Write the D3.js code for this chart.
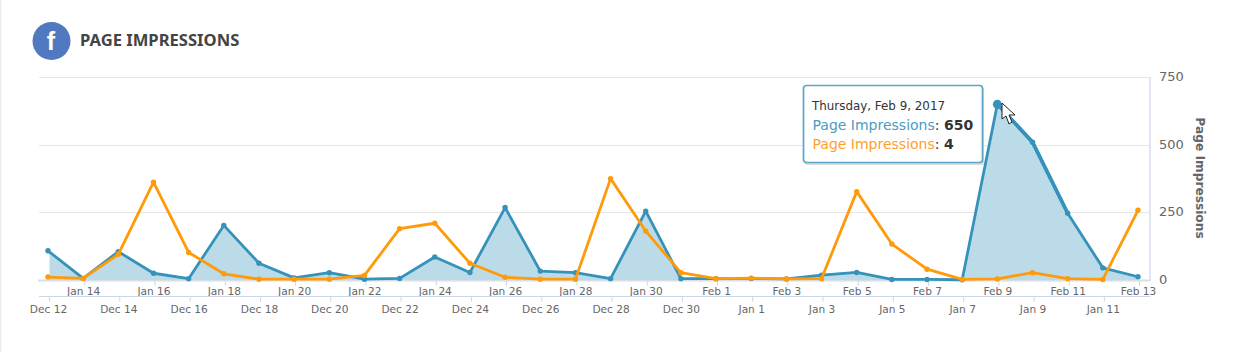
<!DOCTYPE html>
<html><head><meta charset="utf-8">
<script src="https://cdnjs.cloudflare.com/ajax/libs/d3/7.8.5/d3.min.js"></script>
<style>html,body{margin:0;padding:0;background:#fff;overflow:hidden}svg{display:block}</style>
</head><body><svg id="c" width="1249" height="352"></svg>
<script>
const topLabels=["Jan 14","Jan 16","Jan 18","Jan 20","Jan 22","Jan 24","Jan 26","Jan 28","Jan 30","Feb 1","Feb 3","Feb 5","Feb 7","Feb 9","Feb 11","Feb 13"];
const bottomLabels=["Dec 12","Dec 14","Dec 16","Dec 18","Dec 20","Dec 22","Dec 24","Dec 26","Dec 28","Dec 30","Jan 1","Jan 3","Jan 5","Jan 7","Jan 9","Jan 11"];
const blueValues=[108,6,105,25,5,202,62,8,27,3,6,85,28,268,33,27,5,255,5,5,6,4,18,28,2,2,1,650,510,247,45,12];
const orangeValues=[11,6,95,362,102,23,3,3,3,17,190,210,62,10,3,3,375,181,27,5,7,4,5,327,133,40,2,4,27,5,2,258];
const yTicks=[0,250,500,750];
const titleText="PAGE IMPRESSIONS",yTitle="Page Impressions";
const tooltipDate="Thursday, Feb 9, 2017",seriesName="Page Impressions";
const hoverIndex=27;
const BLUE="#3592b9",ORANGE="#ff9a0a",TXT="#666";
const FONT="'DejaVu Sans',sans-serif";
const svg=d3.select("#c");
const x=d3.scaleLinear().domain([0,blueValues.length-1]).range([48,1138]);
const y=d3.scaleLinear().domain([0,750]).range([280,77.3]);
svg.append("defs").append("clipPath").attr("id","ac").append("rect").attr("x",49.5).attr("y",0).attr("width",1200).attr("height",352);
svg.append("rect").attr("x",0).attr("y",0).attr("width",1.5).attr("height",352).attr("fill","#eee");
// header
svg.append("circle").attr("cx",51.5).attr("cy",41).attr("r",19).attr("fill","#5079bf");
svg.append("text").attr("x",51).attr("y",50).attr("text-anchor","middle").attr("font-family","'Liberation Sans',sans-serif").attr("font-weight",700).attr("font-size",25).attr("fill","#fff").text("f");
svg.append("text").attr("x",80).attr("y",46).attr("font-family","'Noto Sans',sans-serif").attr("font-weight",700).attr("font-size",16.6).attr("fill","#444").text(titleText);
// grid
svg.append("g").selectAll("line").data(yTicks.filter(d=>d>0)).join("line").attr("x1",39).attr("x2",1150).attr("y1",d=>Math.round(y(d))+.5).attr("y2",d=>Math.round(y(d))+.5).attr("stroke","#e6e6e6");
svg.append("line").attr("x1",38).attr("x2",1150).attr("y1",y(0)+.5).attr("y2",y(0)+.5).attr("stroke","#d8dfe9").attr("stroke-width",2);
// right axis
svg.append("line").attr("x1",1150).attr("x2",1150).attr("y1",77).attr("y2",281).attr("stroke","#d5deee").attr("stroke-width",1.5);
const yAxis=d3.axisRight(y).tickValues(yTicks).tickSize(0).tickPadding(0).tickFormat(d3.format("d"));
const gy=svg.append("g").attr("transform","translate(1159,-1)").call(yAxis);
gy.select(".domain").remove();
gy.selectAll("text").attr("font-family",FONT).attr("font-size",13).attr("fill",TXT);
svg.append("text").attr("transform","translate(1196,178) rotate(90)").attr("text-anchor","middle").attr("font-family",FONT).attr("font-weight",700).attr("font-size",12.2).attr("fill",TXT).text(yTitle);
// x axes
const idx=d3.range(blueValues.length);
const topIdx=idx.filter(i=>i%2==1), botIdx=idx.filter(i=>i%2==0);
const axTop=d3.axisBottom(x).tickValues(topIdx).tickSize(5).tickPadding(2).tickFormat((d,i)=>topLabels[i]);
const gt=svg.append("g").attr("transform","translate(0,280.5)").call(axTop);
const axBot=d3.axisBottom(x).tickValues(botIdx).tickSize(5).tickPadding(4).tickFormat((d,i)=>bottomLabels[i]);
const gb=svg.append("g").attr("transform","translate(0,296.5)").call(axBot);
[gt,gb].forEach(g=>{g.select(".domain").remove();g.selectAll("line").attr("stroke","#ccd6eb").attr("transform","translate(1,0)");g.selectAll("text").attr("font-family",FONT).attr("font-size",10.6).attr("fill",TXT)});
svg.append("line").attr("x1",39).attr("x2",1150).attr("y1",296.5).attr("y2",296.5).attr("stroke","#ccd6eb");
// area
const area=d3.area().x((d,i)=>x(i)).y0(y(0)).y1(d=>y(d));
svg.append("path").datum(blueValues).attr("d",area).attr("fill","#bcdbe8").attr("clip-path","url(#ac)");
const line=d3.line().x((d,i)=>x(i)).y(d=>y(d));
function series(vals,col){
 svg.append("path").datum(vals).attr("d",line).attr("fill","none").attr("stroke",col).attr("stroke-width",2.8).attr("stroke-linejoin","round");
 svg.append("g").selectAll("circle").data(vals).join("circle").attr("cx",(d,i)=>x(i)).attr("cy",d=>y(d)).attr("r",2.7).attr("fill",col);
}
series(blueValues,BLUE);
// the hovered stretch is drawn heavier in the reference
svg.append("path").datum(blueValues.slice(hoverIndex,hoverIndex+3)).attr("d",d3.line().x((d,i)=>x(i+hoverIndex)).y(d=>y(d))).attr("fill","none").attr("stroke",BLUE).attr("stroke-width",3.8);
series(orangeValues,ORANGE);
svg.append("circle").attr("cx",x(hoverIndex)).attr("cy",y(blueValues[hoverIndex])).attr("r",4.5).attr("fill",BLUE);
// tooltip
const t=svg.append("g").attr("transform","translate(803,85)");
t.append("rect").attr("x",1).attr("y",2).attr("width",180).attr("height",78).attr("rx",3).attr("fill","#000").attr("opacity",.14);
t.append("rect").attr("x",.5).attr("y",.5).attr("width",179).attr("height",77).attr("rx",3).attr("fill","#fff").attr("stroke","#5da6c6").attr("stroke-width",1.7);
t.append("text").attr("x",9).attr("y",24.5).attr("font-family",FONT).attr("font-size",11.9).attr("fill","#333").text(tooltipDate);
const row=(yy,col,v)=>{const r=t.append("text").attr("x",9.5).attr("y",yy).attr("font-family",FONT).attr("font-size",14);
 r.append("tspan").attr("fill",col).text(seriesName);
 r.append("tspan").attr("fill","#333").text(": ");
 r.append("tspan").attr("fill","#333").attr("font-weight",700).text(v);};
row(44.5,"#4a9cc2",blueValues[hoverIndex]);
row(64,"#ffa02e",orangeValues[hoverIndex]);
// cursor
svg.append("path").attr("d",d3.line()([[1002,103],[1002,119],[1006,116],[1009,124],[1012,122],[1009,115],[1015,115]])+"Z").attr("fill","#fff").attr("stroke","#222").attr("stroke-width",1);
</script></body></html>
